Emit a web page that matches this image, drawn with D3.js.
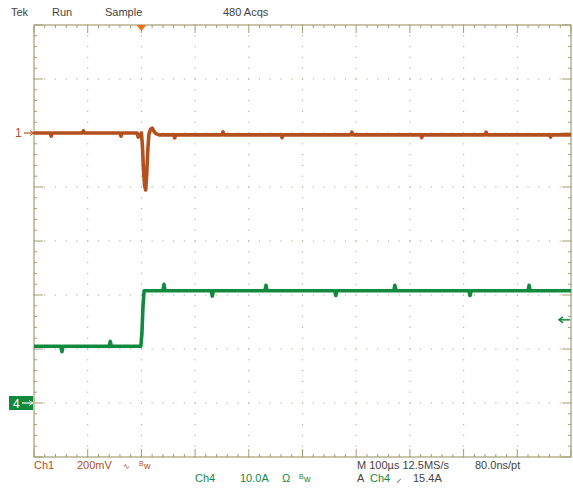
<!DOCTYPE html>
<html><head><meta charset="utf-8">
<script src="https://cdn.jsdelivr.net/npm/d3@7"></script>
<style>
html,body{margin:0;padding:0;background:#fff;}
svg{display:block;font-family:"Liberation Sans",Arial,sans-serif;}
</style></head>
<body>
<svg id="c" width="573" height="488"></svg>
<script>
// ---- data ----
// time in microseconds (100 us/div, trigger at t=0)
const ch1Time  = [-200, -170, -168, -166, -110, -108, -106, -40, -38, -36, -8, -6, 0, 2, 4, 6, 8, 10, 12, 14, 17, 20, 23, 27, 33, 60, 62, 64, 150, 152, 154, 260, 262, 264, 390, 392, 394, 520, 522, 524, 640, 642, 644, 760, 762, 764, 800];
// Ch1 voltage in mV (200 mV/div)
const ch1Value = [0, 0, -12, 0, 0, 8, 0, 0, -12, 0, 0, -15, 0, -50, -140, -195, -211, -150, -60, -5, 14, 18, 8, -2, -7, -7, -18, -7, -7, 4, -7, -7, -17, -7, -7, 3, -7, -7, -17, -7, -7, 3, -7, -7, -15, -7, -7];
const ch4Time  = [-200, -150, -148, -146, -60, -58, -56, -1, 1, 3, 5, 40, 42, 44, 130, 132, 134, 230, 232, 234, 360, 362, 364, 470, 472, 474, 610, 612, 614, 720, 722, 724, 800];
// Ch4 current in A (10 A/div)
const ch4Value = [10.5, 10.5, 9.5, 10.5, 10.5, 11.4, 10.5, 10.5, 13, 18, 20.8, 20.8, 22, 20.8, 20.8, 19.8, 20.8, 20.8, 21.8, 20.8, 20.8, 19.9, 20.8, 20.8, 21.8, 20.8, 20.8, 19.9, 20.8, 20.8, 21.8, 20.8, 20.8];
const triggerLevel = 15.4;
const topLabels = ["Tek", "Run", "Sample", "480 Acqs"];

// ---- layout ----
const L = 34, R = 571, T = 25, B = 457;
const svg = d3.select("#c");
const x = d3.scaleLinear().domain([-200, 800]).range([L, R]);
const yDiv = d3.scaleLinear().domain([-4, 4]).range([B, T]);
const y1 = d3.scaleLinear().domain([-1200, 400]).range([B, T]);
const y4 = d3.scaleLinear().domain([-10, 70]).range([B, T]);
const frameCol = "#a29e72", dotCol = "#b9b69a";
const c1 = "#b4501e", c4 = "#128a3e", txt = "#444";

// dotted grid
const g = svg.append("g");
const xMaj = d3.range(-200, 801, 100), yMaj = d3.range(-4, 5, 1);
xMaj.slice(1, -1).forEach(t => {
  d3.range(-4, 4.01, 0.2).forEach(d => {
    g.append("rect").attr("x", x(t) - 0.6).attr("y", yDiv(d) - 0.6).attr("width", 1.2).attr("height", 1.2).attr("fill", dotCol);
  });
});
yMaj.slice(1, -1).forEach(d => {
  d3.range(-200, 800.1, 20).forEach(t => {
    g.append("rect").attr("x", x(t) - 0.6).attr("y", yDiv(d) - 0.6).attr("width", 1.2).attr("height", 1.2).attr("fill", dotCol);
  });
});

// frame with ticks
g.append("rect").attr("x", L).attr("y", T).attr("width", R - L).attr("height", B - T)
  .attr("fill", "none").attr("stroke", frameCol).attr("stroke-width", 1.2);
d3.range(-200, 800.1, 20).forEach((t, i) => {
  const len = i % 5 === 0 ? 8 : 3;
  g.append("line").attr("x1", x(t)).attr("x2", x(t)).attr("y1", T).attr("y2", T + len).attr("stroke", frameCol);
  g.append("line").attr("x1", x(t)).attr("x2", x(t)).attr("y1", B).attr("y2", B - len).attr("stroke", frameCol);
});
d3.range(-4, 4.01, 0.2).forEach((d, i) => {
  const len = i % 5 === 0 ? 9 : 3;
  g.append("line").attr("y1", yDiv(d)).attr("y2", yDiv(d)).attr("x1", L).attr("x2", L + len).attr("stroke", frameCol);
  g.append("line").attr("y1", yDiv(d)).attr("y2", yDiv(d)).attr("x1", R).attr("x2", R - len).attr("stroke", frameCol);
});

// traces
const line1 = d3.line().x((d, i) => x(ch1Time[i])).y(d => y1(d));
const line4 = d3.line().x((d, i) => x(ch4Time[i])).y(d => y4(d));
svg.append("path").attr("d", line1(ch1Value)).attr("fill", "none").attr("stroke", c1).attr("stroke-width", 3.6).attr("stroke-linejoin", "round");
svg.append("path").attr("d", line4(ch4Value)).attr("fill", "none").attr("stroke", c4).attr("stroke-width", 3.6).attr("stroke-linejoin", "round");

// trigger position marker (top)
svg.append("path").attr("d", `M${x(0) - 5},${T} L${x(0) + 5},${T} L${x(0)},${T + 6} Z`).attr("fill", "#f07020");

// ch1 ground marker
svg.append("text").attr("x", 15).attr("y", y1(0) + 4).attr("fill", c1).attr("font-size", 12).text("1");
svg.append("line").attr("x1", 24).attr("x2", L).attr("y1", y1(0)).attr("y2", y1(0)).attr("stroke", c1).attr("stroke-width", 1.2);
svg.append("path").attr("d", `M30,${y1(0) - 2.5} L34,${y1(0)} L30,${y1(0) + 2.5}`).attr("fill", "none").attr("stroke", c1);

// ch4 ground marker
svg.append("rect").attr("x", 9).attr("y", y4(0) - 7).attr("width", 24).attr("height", 14).attr("fill", c4);
svg.append("text").attr("x", 13).attr("y", y4(0) + 4.5).attr("fill", "#fff").attr("font-size", 12).text("4");
svg.append("line").attr("x1", 22).attr("x2", 33).attr("y1", y4(0)).attr("y2", y4(0)).attr("stroke", "#fff").attr("stroke-width", 1.2);
svg.append("path").attr("d", `M29,${y4(0) - 2.5} L33,${y4(0)} L29,${y4(0) + 2.5}`).attr("fill", "none").attr("stroke", "#fff");

// trigger level arrow (right)
const ty = y4(triggerLevel);
svg.append("line").attr("x1", 559).attr("x2", 570).attr("y1", ty).attr("y2", ty).attr("stroke", c4).attr("stroke-width", 1.5);
svg.append("path").attr("d", `M563,${ty - 3} L559,${ty} L563,${ty + 3}`).attr("fill", "none").attr("stroke", c4).attr("stroke-width", 1.5);

// top labels
const topX = [11, 52, 105, 223];
topLabels.forEach((s, i) => svg.append("text").attr("x", topX[i]).attr("y", 16).attr("fill", txt).attr("font-size", 11).text(s));

// bottom labels
function t(xp, yp, s, col, fs) {
  return svg.append("text").attr("x", xp).attr("y", yp).attr("fill", col).attr("font-size", fs || 11).text(s);
}
t(34, 469, "Ch1", c1);
t(77, 469, "200mV", c1);
t(123, 469, "∿", c1, 8);
t(139, 466, "B", c1, 7); t(144, 469, "w", c1, 9);
t(195, 482, "Ch4", c4);
t(240, 482, "10.0A", c4);
t(282, 482, "Ω", c4);
t(299, 479, "B", c4, 7); t(304, 482, "w", c4, 9);
t(357, 469, "M 100µs 12.5MS/s", txt);
t(475, 469, "80.0ns/pt", txt);
t(357, 482, "A", txt);
t(370, 482, "Ch4", c4);
t(396, 482, "⸝", txt);
t(413, 482, "15.4A", txt);
</script>
</body></html>
